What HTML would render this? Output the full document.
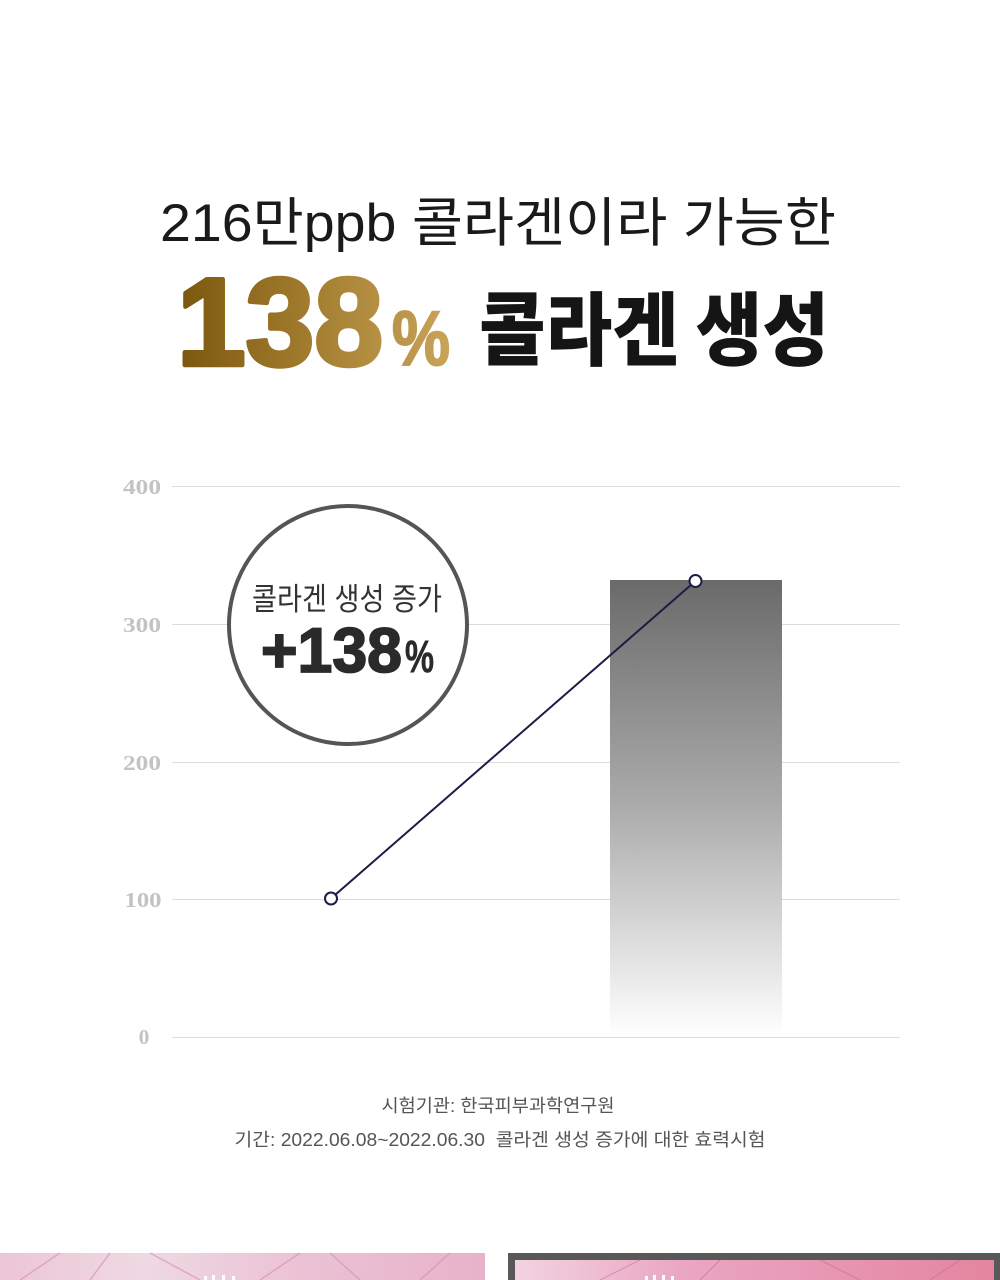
<!DOCTYPE html>
<html><head><meta charset="utf-8"><style>
html,body{margin:0;padding:0;background:#fff;}
svg{display:block;}
</style></head><body>
<svg width="1000" height="1280" viewBox="0 0 1000 1280" xmlns="http://www.w3.org/2000/svg">
<defs>
<linearGradient id="gold" gradientUnits="userSpaceOnUse" x1="175" y1="0" x2="455" y2="0">
<stop offset="0" stop-color="#7a560e"/>
<stop offset="0.45" stop-color="#a07a2c"/>
<stop offset="1" stop-color="#caa55a"/>
</linearGradient>
<linearGradient id="bar" x1="0" y1="0" x2="0" y2="1">
<stop offset="0" stop-color="#6a6a6a"/>
<stop offset="0.5" stop-color="#acacac"/>
<stop offset="1" stop-color="#ffffff"/>
</linearGradient>
<linearGradient id="pinkL" x1="0" y1="0" x2="1" y2="0">
<stop offset="0" stop-color="#ecc6d6"/>
<stop offset="0.3" stop-color="#eed9e2"/>
<stop offset="0.6" stop-color="#ebc3d5"/>
<stop offset="1" stop-color="#e8b2ca"/>
</linearGradient>
<linearGradient id="pinkR" x1="0" y1="0" x2="1" y2="0">
<stop offset="0" stop-color="#f2d3e0"/>
<stop offset="0.35" stop-color="#eaa6c3"/>
<stop offset="1" stop-color="#e4859f"/>
</linearGradient>
</defs>

<!-- Title line 1 -->
<text x="160" y="241" font-family="'Liberation Sans','Noto Sans CJK KR',sans-serif" font-size="53" fill="#1a1a1a" textLength="676" lengthAdjust="spacingAndGlyphs">216만ppb 콜라겐이라 가능한</text>

<!-- 138% -->
<text x="177" y="365" font-family="'Liberation Sans',sans-serif" font-weight="bold" font-size="124" fill="url(#gold)" stroke="url(#gold)" stroke-width="4.5" stroke-linejoin="round" textLength="206" lengthAdjust="spacingAndGlyphs">138</text>
<text x="392" y="365" font-family="'Liberation Sans',sans-serif" font-weight="bold" font-size="77" fill="url(#gold)" stroke="url(#gold)" stroke-width="2" textLength="58" lengthAdjust="spacingAndGlyphs">%</text>

<!-- 콜라겐 생성 -->
<text x="479" y="359" font-family="'Noto Sans CJK KR','NanumGothic',sans-serif" font-weight="900" font-size="80" fill="#151515" textLength="350" lengthAdjust="spacingAndGlyphs">콜라겐 생성</text>

<!-- Grid lines -->
<g stroke="#dcdcdc" stroke-width="1">
<line x1="172" y1="486.5" x2="900" y2="486.5"/>
<line x1="172" y1="624.5" x2="900" y2="624.5"/>
<line x1="172" y1="762.5" x2="900" y2="762.5"/>
<line x1="172" y1="899.5" x2="900" y2="899.5"/>
<line x1="172" y1="1037.5" x2="900" y2="1037.5"/>
</g>

<!-- Tick labels -->
<g font-family="'Liberation Serif',serif" font-weight="bold" font-size="21" fill="#c3c3c3" text-anchor="middle">
<text x="142" y="494" textLength="38" lengthAdjust="spacingAndGlyphs">400</text>
<text x="142" y="632" textLength="38" lengthAdjust="spacingAndGlyphs">300</text>
<text x="142" y="770" textLength="38" lengthAdjust="spacingAndGlyphs">200</text>
<text x="143" y="907" textLength="37" lengthAdjust="spacingAndGlyphs">100</text>
<text x="144" y="1044">0</text>
</g>

<!-- Bar -->
<rect x="610" y="580" width="172" height="457" fill="url(#bar)"/>

<!-- Circle -->
<circle cx="348" cy="625" r="119" fill="#fff" stroke="#555" stroke-width="4"/>
<text x="347" y="610" text-anchor="middle" font-family="'Liberation Sans','Noto Sans CJK KR',sans-serif" font-size="31" fill="#333" textLength="190" lengthAdjust="spacingAndGlyphs">콜라겐 생성 증가</text>
<text x="261" y="672" font-family="'Liberation Sans',sans-serif" font-weight="bold" font-size="63" fill="#2a2a2a" stroke="#2a2a2a" stroke-width="1.8" textLength="141" lengthAdjust="spacingAndGlyphs">+138</text>
<text x="405" y="672" font-family="'Liberation Sans',sans-serif" font-weight="bold" font-size="45" fill="#2a2a2a" stroke="#2a2a2a" stroke-width="0.6" textLength="29" lengthAdjust="spacingAndGlyphs">%</text>

<!-- Line series -->
<line x1="331" y1="898.5" x2="695.5" y2="581" stroke="#1c1c45" stroke-width="2"/>
<circle cx="331" cy="898.5" r="6" fill="#fff" stroke="#1c1c45" stroke-width="2"/>
<circle cx="695.5" cy="581" r="6" fill="#fff" stroke="#1c1c45" stroke-width="2"/>

<!-- Footer -->
<text x="498" y="1112" text-anchor="middle" font-family="'Liberation Sans','Noto Sans CJK KR',sans-serif" font-size="18" fill="#555" textLength="233" lengthAdjust="spacingAndGlyphs">시험기관: 한국피부과학연구원</text>
<text x="500" y="1146" text-anchor="middle" font-family="'Liberation Sans','Noto Sans CJK KR',sans-serif" font-size="18" fill="#555" textLength="531" lengthAdjust="spacingAndGlyphs" xml:space="preserve">기간: 2022.06.08~2022.06.30  콜라겐 생성 증가에 대한 효력시험</text>

<!-- Bottom images -->
<rect x="0" y="1253" width="485" height="27" fill="url(#pinkL)"/>
<g stroke="#d98bb0" stroke-width="1.5" opacity="0.6">
<line x1="20" y1="1280" x2="60" y2="1253"/>
<line x1="90" y1="1280" x2="110" y2="1253"/>
<line x1="150" y1="1253" x2="200" y2="1280"/>
<line x1="260" y1="1280" x2="300" y2="1253"/>
<line x1="330" y1="1253" x2="360" y2="1280"/>
<line x1="420" y1="1280" x2="450" y2="1253"/>
</g>
<g fill="#fff">
<rect x="204" y="1276" width="3" height="4"/><rect x="212" y="1275" width="3" height="5"/><rect x="222" y="1275" width="3" height="5"/><rect x="232" y="1276" width="3" height="4"/>
</g>
<rect x="508" y="1253" width="492" height="27" fill="#585858"/>
<rect x="515" y="1260" width="479" height="20" fill="url(#pinkR)"/>
<g stroke="#c0608a" stroke-width="1" opacity="0.5">
<line x1="600" y1="1280" x2="640" y2="1260"/>
<line x1="700" y1="1280" x2="720" y2="1260"/>
<line x1="820" y1="1260" x2="860" y2="1280"/>
<line x1="930" y1="1280" x2="960" y2="1260"/>
</g>
<g fill="#fff">
<rect x="645" y="1276" width="3" height="4"/><rect x="653" y="1275" width="3" height="5"/><rect x="662" y="1275" width="3" height="5"/><rect x="671" y="1276" width="3" height="4"/>
</g>
</svg>
</body></html>
